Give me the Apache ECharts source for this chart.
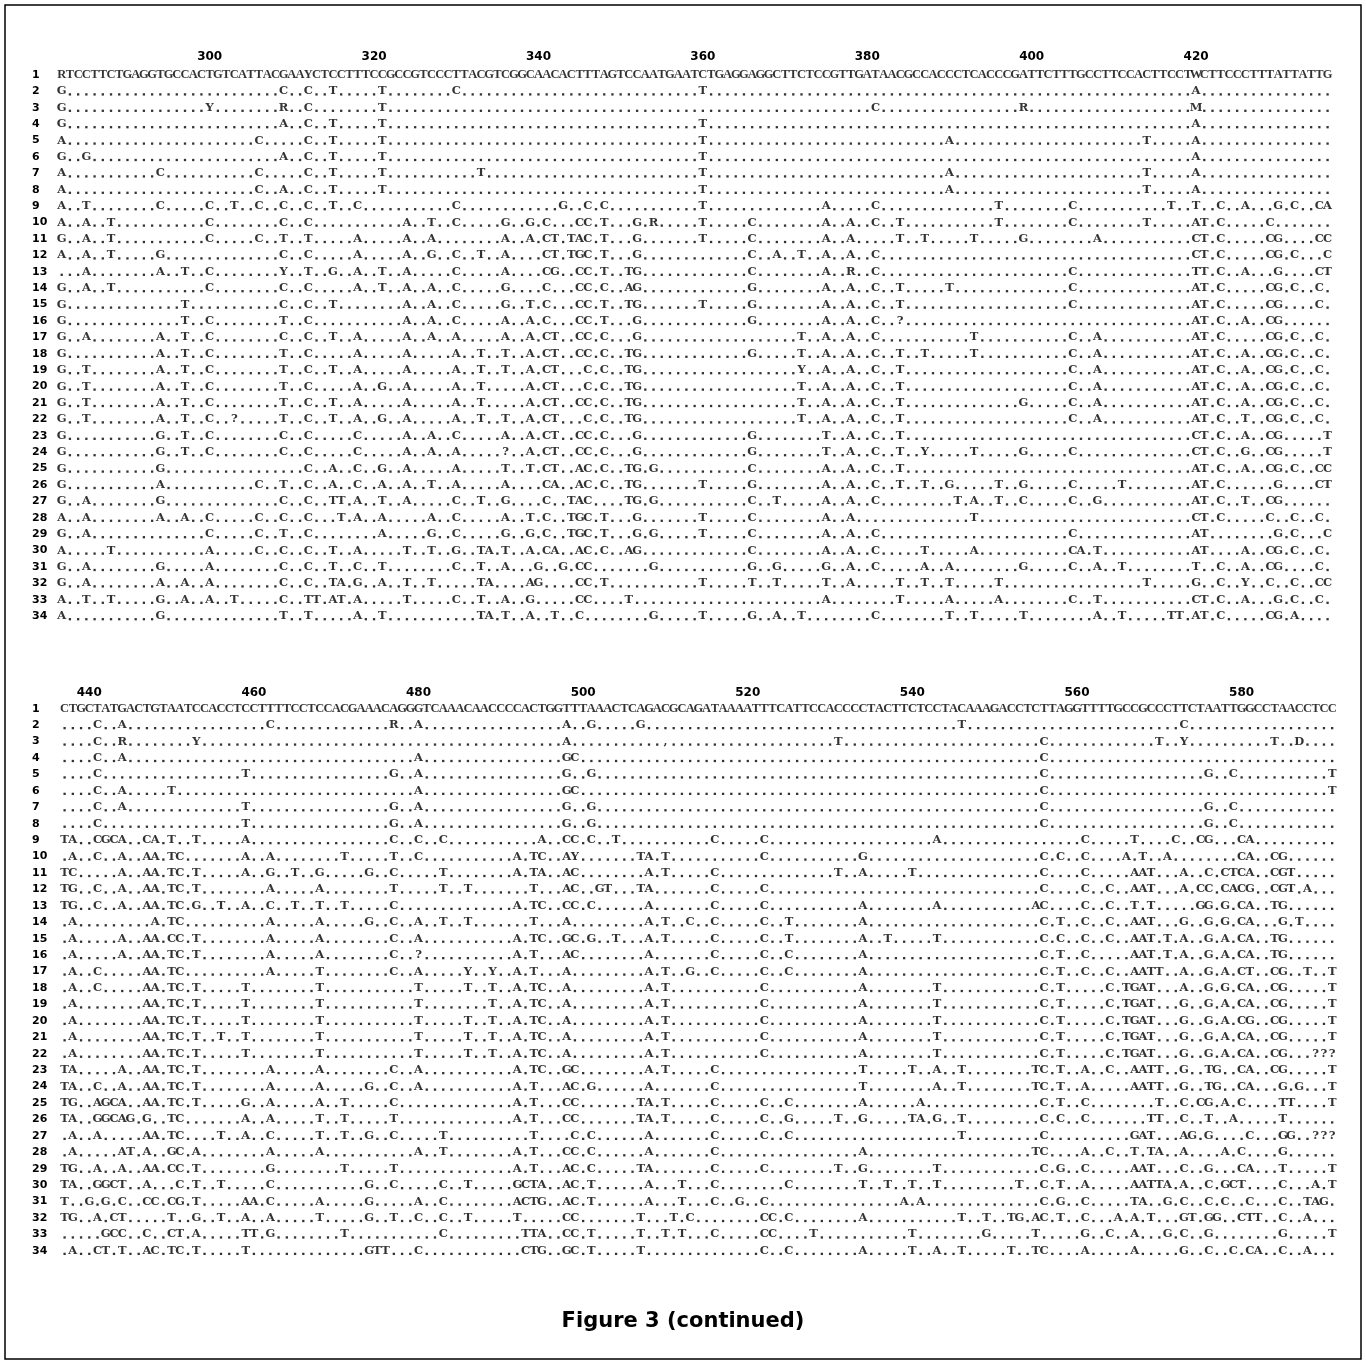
<!DOCTYPE html>
<html><head><meta charset="utf-8">
<script src="https://cdn.jsdelivr.net/npm/echarts@6/dist/echarts.min.js"></script>
<style>html,body{margin:0;padding:0;background:#fff}#c{width:1366px;height:1361px}</style>
</head><body><div id="c"></div>
<script>
// ---------------- data ----------------
const rowLabels = Array.from({length: 34}, (_, i) => String(i + 1));
const topStart = 282;          // alignment position of first column, upper block
const bottomStart = 437;       // alignment position of first column, lower block
const blockLength = 155;
const topTicks = [300, 320, 340, 360, 380, 400, 420];
const bottomTicks = [440, 460, 480, 500, 520, 540, 560, 580];

const topConsensus = "RTCCTTCTGAGGTGCCACTGTCATTACGAAYCTCCTTTCCGCCGTCCCTTACGTCGGCAACACTTTAGTCCAATGAATCTGAGGAGGCTTCTCCGTTGATAACGCCACCCTCACCCGATTCTTTGCCTTCCACTTCCTWCTTCCCTTTATTATTG";
const bottomConsensus = "CTGCTATGACTGTAATCCACCTCCTTTTCCTCCACGAAACAGGGTCAAACAACCCCACTGGTTTAAACTCAGACGCAGATAAAATTTCATTCCACCCCTACTTCTCCTACAAAGACCTCTTAGGTTTTGCCGCCCTTCTAATTGGCCTAACCTCC";

// differences from sequence 1 ("column+base"); every other column is a dot
const topRows = [
"0G 27C 30C 33T 39T 48C 78T 138A",
"0G 18Y 27R 30C 39T 99C 117R 138M",
"0G 27A 30C 33T 39T 78T 138A",
"0A 24C 30C 33T 39T 78T 108A 132T 138A",
"0G 3G 27A 30C 33T 39T 78T 138A",
"0A 12C 24C 30C 33T 39T 51T 78T 108A 132T 138A",
"0A 24C 27A 30C 33T 39T 78T 108A 132T 138A",
"0A 3T 12C 18C 21T 24C 27C 30C 33T 36C 48C 61G 64C 66C 78T 93A 99C 114T 123C 135T 138T 141C 144A 148G 150C 153C 154A",
"0A 3A 6T 18C 27C 30C 42A 45T 48C 54G 57G 59C 63C 64C 66T 70G 72R 78T 84C 93A 96A 99C 102T 114T 123C 132T 138A 139T 141C 147C",
"0G 3A 6T 18C 24C 27T 30T 36A 42A 45A 54A 57A 59C 60T 62T 63A 64C 66T 70G 78T 84C 93A 96A 102T 105T 111T 117G 126A 138C 139T 141C 147C 148G 153C 154C",
"0A 3A 6T 12G 27C 30C 36A 42A 45G 48C 51T 54A 59C 60T 62T 63G 64C 66T 70G 84C 87A 90T 93A 96A 99C 138C 139T 141C 147C 148G 150C 154C",
"3A 12A 15T 18C 27Y 30T 33G 36A 39T 42A 48C 54A 59C 60G 63C 64C 66T 69T 70G 84C 93A 96R 99C 123C 138T 139T 141C 144A 148G 153C 154T",
"0G 3A 6T 18C 27C 30C 36A 39T 42A 45A 48C 54G 59C 63C 64C 66C 69A 70G 84G 93A 96A 99C 102T 108T 123C 138A 139T 141C 147C 148G 150C 153C",
"0G 15T 27C 30C 33T 42A 45A 48C 54G 57T 59C 63C 64C 66T 69T 70G 78T 84G 93A 96A 99C 102T 123C 138A 139T 141C 147C 148G 153C",
"0G 15T 18C 27T 30C 42A 45A 48C 54A 57A 59C 63C 64C 66T 70G 84G 93A 96A 99C 102? 138A 139T 141C 144A 147C 148G",
"0G 3A 12A 15T 18C 27C 30C 33T 36A 42A 45A 48A 54A 57A 59C 60T 63C 64C 66C 70G 90T 93A 96A 99C 111T 123C 126A 138A 139T 141C 147C 148G 150C 153C",
"0G 12A 15T 18C 27T 30C 36A 42A 48A 51T 54T 57A 59C 60T 63C 64C 66C 69T 70G 84G 90T 93A 96A 99C 102T 105T 111T 123C 126A 138A 139T 141C 144A 147C 148G 150C 153C",
"0G 3T 12A 15T 18C 27T 30C 33T 36A 42A 48A 51T 54T 57A 59C 60T 64C 66C 69T 70G 90Y 93A 96A 99C 102T 123C 126A 138A 139T 141C 144A 147C 148G 150C 153C",
"0G 3T 12A 15T 18C 27T 30C 36A 39G 42A 48A 51T 57A 59C 60T 64C 66C 69T 70G 90T 93A 96A 99C 102T 123C 126A 138A 139T 141C 144A 147C 148G 150C 153C",
"0G 3T 12A 15T 18C 27T 30C 33T 36A 42A 48A 51T 57A 59C 60T 63C 64C 66C 69T 70G 90T 93A 96A 99C 102T 117G 123C 126A 138A 139T 141C 144A 147C 148G 150C 153C",
"0G 3T 12A 15T 18C 21? 27T 30C 33T 36A 39G 42A 48A 51T 54T 57A 59C 60T 64C 66C 69T 70G 90T 93A 96A 99C 102T 123C 126A 138A 139T 141C 144T 147C 148G 150C 153C",
"0G 12G 15T 18C 27C 30C 36C 42A 45A 48C 54A 57A 59C 60T 63C 64C 66C 70G 84G 93T 96A 99C 102T 138C 139T 141C 144A 147C 148G 154T",
"0G 12G 15T 18C 27C 30C 36C 42A 45A 48A 54? 57A 59C 60T 63C 64C 66C 70G 84G 93T 96A 99C 102T 105Y 111T 117G 123C 138C 139T 141C 144G 147C 148G 154T",
"0G 12G 30C 33A 36C 39G 42A 48A 54T 57T 59C 60T 63A 64C 66C 69T 70G 72G 84C 93A 96A 99C 102T 138A 139T 141C 144A 147C 148G 150C 153C 154C",
"0G 12A 24C 27T 30C 33A 36C 39A 42A 45T 48A 54A 59C 60A 63A 64C 66C 69T 70G 78T 84G 93A 96A 99C 102T 105T 108G 114T 117G 123C 129T 138A 139T 141C 148G 153C 154T",
"0G 3A 12G 27C 30C 33T 34T 36A 39T 42A 48C 51T 54G 59C 62T 63A 64C 69T 70G 72G 84C 87T 93A 96A 99C 109T 111A 114T 117C 123C 126G 138A 139T 141C 144T 147C 148G",
"0A 3A 12A 15A 18C 24C 27C 30C 34T 36A 39A 45A 48C 54A 57T 59C 62T 63G 64C 66T 70G 78T 84C 93A 96A 111T 138C 139T 141C 147C 150C 153C",
"0G 3A 18C 24C 27T 30C 39A 45G 48C 54G 57G 59C 62T 63G 64C 66T 70G 72G 78T 84C 93A 96A 99C 123C 138A 139T 148G 150C 154C",
"0A 6T 18A 24C 27C 30C 33T 36A 42T 45T 48G 51T 52A 54T 57A 59C 60A 63A 64C 66C 69A 70G 84C 93A 96A 99C 105T 111A 123C 124A 126T 138A 139T 144A 147C 148G 150C 153C",
"0G 3A 12G 18A 27C 30C 33T 36C 39T 48C 51T 54A 58G 61G 63C 64C 72G 84G 87G 93G 96A 99C 105A 108A 117G 123C 126A 129T 138T 141C 144A 147C 148G 153C",
"0G 3A 12A 15A 18A 27C 30C 33T 34A 36G 39A 42T 45T 51T 52A 57A 58G 63C 64C 66T 78T 84T 87T 93T 96A 102T 105T 108T 114T 132T 138G 141C 144Y 147C 150C 153C 154C",
"0A 3T 6T 12G 15A 18A 21T 27C 30T 31T 33A 34T 36A 42T 48C 51T 54A 57G 63C 64C 69T 93A 102T 108A 114A 123C 126T 138C 139T 141C 144A 148G 150C 153C",
"0A 12G 27T 30T 36A 39T 51T 52A 54T 57A 60T 63C 72G 78T 84G 87A 90T 99C 108T 111T 117T 126A 129T 135T 136T 138A 139T 141C 147C 148G 150A"
];

const bottomRows = [
"4C 7A 25C 40R 43A 61A 64G 70G 109T 136C",
"4C 7R 16Y 61A 73, 94T 119C 133T 136Y 147T 150D",
"4C 7A 43A 61G 62C 119C",
"4C 22T 40G 43A 61G 64G 119C 139G 142C 154T",
"4C 7A 13T 43A 61G 62C 119C 154T",
"4C 7A 22T 40G 43A 61G 64G 119C 139G 142C",
"4C 22T 40G 43A 61G 64G 119C 139G 142C",
"0T 1A 4C 5G 6C 7A 10C 11A 13T 16T 22A 40C 43C 46C 58A 61C 62C 64C 67T 79C 85C 106A 124C 130T 135C 138C 139G 143C 144A",
"1A 4C 7A 10A 11A 13T 14C 22A 25A 34T 40T 43C 55A 57T 58C 61A 62Y 70T 71A 73T 85C 97G 119C 121C 124C 129A 131T 134A 143C 144A 147C 148G",
"0T 1C 7A 10A 11A 13T 14C 16T 22A 25G 28T 31G 37G 40C 46T 55A 57T 58A 61A 62C 71A 73T 79C 94T 97A 103T 119C 124C 130A 131A 132T 136A 139C 141C 142T 143C 144A 147C 148G 149T",
"0T 1G 4C 7A 10A 11A 13T 14C 16T 25A 31A 40T 46T 49T 57T 61A 62C 65G 66T 70T 71A 79C 85C 119C 124C 127C 130A 131A 132T 136A 138C 139C 141C 142A 143C 144G 147C 148G 149T 151A",
"0T 1G 4C 7A 10A 11A 13T 14C 16G 19T 22A 25C 28T 31T 34T 40C 55A 57T 58C 61C 62C 64C 71A 79C 85C 97A 106A 118A 119C 124C 127C 130T 132T 138G 139G 141G 143C 144A 147T 148G",
"1A 11A 13T 14C 25A 31A 37G 40C 43A 46T 49T 57T 61A 71A 73T 76C 79C 85C 88T 97A 119C 121T 124C 127C 130A 131A 132T 136G 139G 141G 143C 144A 148G 150T",
"1A 7A 10A 11A 13C 14C 16T 25A 31A 40C 43A 55A 57T 58C 61G 62C 64G 67T 71A 73T 79C 85C 88T 97A 100T 106T 119C 121C 124C 127C 130A 131A 132T 134T 136A 139G 141A 143C 144A 147T 148G",
"1A 7A 10A 11A 13T 14C 16T 25A 31A 40C 43? 55A 57T 61A 62C 71A 79C 85C 88C 97A 119C 121T 124C 130A 131A 132T 134T 136A 139G 141A 143C 144A 147T 148G",
"1A 4C 10A 11A 13T 14C 25A 31T 40C 43A 49Y 52Y 55A 57T 61A 71A 73T 76G 79C 85C 88C 97A 119C 121T 124C 127C 130A 131A 132T 133T 136A 139G 141A 143C 144T 147C 148G 151T 154T",
"1A 4C 10A 11A 13T 14C 16T 22T 31T 43T 49T 52T 55A 57T 58C 61A 71A 73T 85C 97A 106T 119C 121T 127C 129T 130G 131A 132T 136A 139G 141G 143C 144A 147C 148G 154T",
"1A 10A 11A 13T 14C 16T 22T 31T 43T 52T 55A 57T 58C 61A 71A 73T 85C 97A 106T 119C 121T 127C 129T 130G 131A 132T 136G 139G 141A 143C 144A 147C 148G 154T",
"1A 10A 11A 13T 14C 16T 22T 31T 43T 49T 52T 55A 57T 58C 61A 71A 73T 85C 97A 106T 119C 121T 127C 129T 130G 131A 132T 136G 139G 141A 143C 144G 147C 148G 154T",
"1A 10A 11A 13T 14C 16T 19T 22T 31T 43T 49T 52T 55A 57T 58C 61A 71A 73T 85C 97A 106T 119C 121T 127C 129T 130G 131A 132T 136G 139G 141A 143C 144A 147C 148G 154T",
"1A 10A 11A 13T 14C 16T 22T 31T 43T 49T 52T 55A 57T 58C 61A 71A 73T 85C 97A 106T 119C 121T 127C 129T 130G 131A 132T 136G 139G 141A 143C 144A 147C 148G 152? 153? 154?",
"0T 1A 7A 10A 11A 13T 14C 16T 25A 31A 40C 43A 55A 57T 58C 61G 62C 71A 73T 79C 97T 103T 106A 109T 118T 119C 121T 124A 127C 130A 131A 132T 133T 136G 139T 140G 143C 144A 147C 148G 154T",
"0T 1A 4C 7A 10A 11A 13T 14C 16T 25A 31A 37G 40C 43A 55A 57T 61A 62C 64G 71A 79C 97T 106A 109T 118T 119C 121T 124A 130A 131A 132T 133T 136G 139T 140G 143C 144A 148G 150G 154T",
"0T 1G 4A 5G 6C 7A 10A 11A 13T 14C 16T 22G 25A 31A 34T 40C 55A 57T 61C 62C 70T 71A 73T 79C 85C 88C 97A 104A 119C 121T 124C 133T 136C 138C 139G 141A 143C 148T 149T 154T",
"0T 1A 4G 5G 6C 7A 8G 10G 13T 14C 22A 25A 31T 34T 40T 55A 57T 61C 62C 70T 71A 73T 79C 85C 88G 94T 97G 103T 104A 106G 109T 119C 121C 124C 132T 133T 136C 139T 142A 148T",
"1A 4A 10A 11A 13T 14C 19T 22A 25C 31T 34T 37G 40C 46T 57T 62C 64C 71A 79C 85C 88C 109T 119C 130G 131A 132T 136A 137G 139G 144C 148G 149G 152? 153? 154?",
"1A 7A 8T 10A 13G 14C 16A 25A 31A 43A 46T 55A 57T 61C 62C 64C 71A 79C 97A 118T 119C 124A 127C 130T 132T 133A 136A 141A 143C 148G",
"0T 1G 4A 7A 10A 11A 13C 14C 16T 25G 34T 40T 55A 57T 61A 62C 64C 70T 71A 79C 85C 94T 97G 106T 119C 121G 124C 130A 131A 132T 136C 139G 143C 144A 148T 154T",
"0T 1A 4G 5G 6C 7T 10A 14C 16T 19T 25C 37G 40C 46C 49T 55G 56C 57T 58A 61A 62C 64T 71A 75T 79C 88C 97T 100T 103T 106T 116T 119C 121T 124A 130A 131A 132T 133T 134A 136A 139C 141G 142C 143T 148C 152A 154T",
"0T 3G 5G 7C 10C 11C 13C 14G 16T 22A 23A 25C 31A 37G 43A 46C 55A 56C 57T 58G 61A 62C 64T 71A 75T 79C 82G 85C 102A 104A 119C 121G 124C 130T 131A 134G 136C 139C 141C 144C 148C 151T 152A 153G",
"0T 1G 4A 6C 7T 13T 16G 19T 22A 25A 31T 37G 40T 43C 46C 49T 55T 61C 62C 70T 74T 76C 85C 86C 88C 97A 109T 112T 115T 116G 118A 119C 121T 124C 128A 130A 132T 136G 137T 139G 140G 143C 144T 145T 148C 151A",
"5G 6C 7C 10C 13C 14T 16A 22T 23T 25G 34T 46C 56T 57T 58A 61C 62C 64T 70T 73T 75T 79C 85C 86C 91T 103T 112G 118T 124G 127C 130A 134G 136C 139G 148G 154T",
"1A 4C 5T 7T 10A 11C 13T 14C 16T 22T 37G 38T 39T 43C 56C 57T 58G 61G 62C 64T 70T 85C 88C 97A 103T 106A 109T 115T 118T 119C 124A 130A 136G 139C 142C 144C 145A 148C 151A"
];

// ---------------- build ----------------
function expandRow(spec) {
  const cells = new Array(blockLength).fill('.');
  spec.trim().split(/\s+/).forEach(tok => {
    const m = tok.match(/^(\d+)(.+)$/);
    if (!m) return;
    const c = +m[1];
    for (let k = 0; k < m[2].length; k++) cells[c + k] = m[2][k];
  });
  return cells;
}
function buildBlock(start, consensus, rows) {
  const dots = [], letters = [], cons = [];
  consensus.split('').forEach((ch, c) => cons.push([start + c, 0, ch]));
  rows.forEach((spec, i) => {
    const r = i + 1;
    expandRow(spec).forEach((ch, c) => {
      if (ch === '.') dots.push([start + c, r]);
      else if (ch !== ' ') letters.push([start + c, r, ch]);
    });
  });
  return {dots, letters, cons};
}
const topBlock = buildBlock(topStart, topConsensus, topRows);
const botBlock = buildBlock(bottomStart, bottomConsensus, bottomRows);

const pitchTop = 8.22, pitchBot = 8.231;
const grids = [
  {left: 61.7 - (topStart - 280) * pitchTop, top: 66.8, width: (437 - 280) * pitchTop, height: 557.6},
  {left: 64.6 - (bottomStart - 436) * pitchBot, top: 700.5, width: (592 - 436) * pitchBot, height: 558.6}
];
const letterFont = {fontFamily: 'DejaVu Serif', fontWeight: 'bold', fontSize: 11.5, color: '#000'};
function xAxis(gi, min, max, ticks, margin) {
  return {
    type: 'value', gridIndex: gi, position: 'top', min, max, interval: 4,
    axisLine: {show: false}, axisTick: {show: false}, splitLine: {show: false},
    axisLabel: {
      margin, color: '#000', fontFamily: 'DejaVu Sans', fontWeight: 'bold', fontSize: 12,
      showMinLabel: false, showMaxLabel: false,
      formatter: v => ticks.includes(v) ? String(v) : ''
    }
  };
}
function yAxis(gi, margin) {
  return {
    type: 'category', gridIndex: gi, data: rowLabels, inverse: true,
    axisLine: {show: false}, axisTick: {show: false}, splitLine: {show: false},
    axisLabel: {interval: 0, align: 'left', margin, color: '#000', fontFamily: 'DejaVu Sans', fontWeight: 'bold', fontSize: 11}
  };
}
function series(gi, block) {
  const common = {type: 'scatter', xAxisIndex: gi, yAxisIndex: gi, silent: true, animation: false, progressive: 0, emphasis: {disabled: true}};
  return [
    Object.assign({}, common, {data: block.dots, symbol: 'rect', symbolSize: 2.3, symbolOffset: [0, 3], itemStyle: {color: '#000'}}),
    Object.assign({}, common, {data: block.letters, symbolSize: 1, itemStyle: {color: 'rgba(0,0,0,0)'},
      label: Object.assign({show: true, position: 'inside', formatter: p => p.data[2]}, letterFont)}),
    Object.assign({}, common, {data: block.cons, symbolSize: 1, itemStyle: {color: 'rgba(0,0,0,0)'},
      label: {show: true, position: 'inside', formatter: p => p.data[2], fontFamily: 'Liberation Serif', fontWeight: 'bold', fontSize: 12.5, color: '#000'}})
  ];
}

const chart = echarts.init(document.getElementById('c'), null, {renderer: 'canvas'});
chart.setOption({
  backgroundColor: '#fff',
  animation: false,
  grid: grids,
  xAxis: [xAxis(0, 280, 437, topTicks, 4), xAxis(1, 436, 592, bottomTicks, 2)],
  yAxis: [yAxis(0, grids[0].left - 32), yAxis(1, grids[1].left - 32)],
  series: [...series(0, topBlock), ...series(1, botBlock)],
  graphic: [
    {type: 'rect', shape: {x: 5, y: 5, width: 1356, height: 1354}, style: {fill: 'none', stroke: '#000', lineWidth: 1.5}, silent: true},
    {type: 'text', left: 'center', top: 1311, style: {text: 'Figure 3 (continued)', font: 'bold 21px "DejaVu Sans"', fill: '#000'}, silent: true}
  ]
});
</script>
</body></html>
